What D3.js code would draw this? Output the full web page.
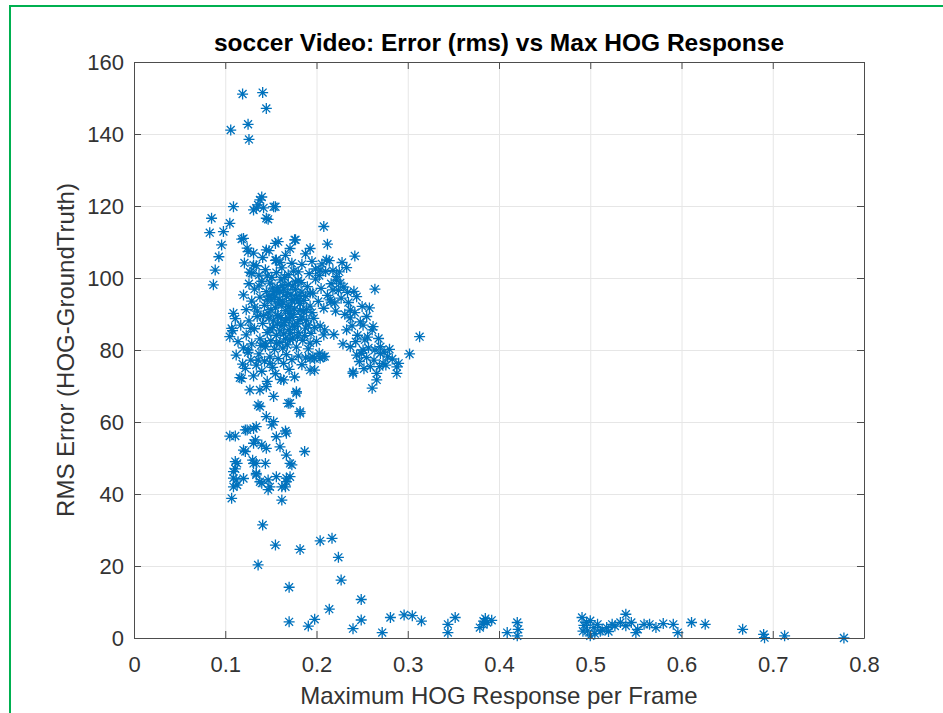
<!DOCTYPE html>
<html>
<head>
<meta charset="utf-8">
<script src="https://cdn.jsdelivr.net/npm/d3@7"></script>
<style>
  body { margin: 0; background: #fff; }
  svg { display: block; font-family: "Liberation Sans", Arial, sans-serif; }
  .axis path, .axis line { stroke: #4d4d4d; }
  .axis text { fill: #333; font-size: 22px; }
  .grid line { stroke: #e6e6e6; }
  .grid path { stroke: none; }
</style>
</head>
<body>
<div id="chart"></div>
<script>
// Plot box in pixels: x from 134 to 864, y from 62 to 638

var margin = { top: 62, right: 79, bottom: 75, left: 134 },
    width = 943 - margin.left - margin.right,
    height = 713 - margin.top - margin.bottom;

var xTicks = [0, 0.1, 0.2, 0.3, 0.4, 0.5, 0.6, 0.7, 0.8],
    xTickLabels = ["0", "0.1", "0.2", "0.3", "0.4", "0.5", "0.6", "0.7", "0.8"],
    yTicks = [0, 20, 40, 60, 80, 100, 120, 140, 160];

// [max HOG response, RMS error] pairs

var upperPoints = [
  [0.119, 151.1], [0.141, 151.5], [0.145, 147.1], [0.125, 142.7], [0.106, 141.1], [0.126, 138.5],
  [0.138, 121.7], [0.140, 122.5], [0.131, 118.9], [0.155, 119.8], [0.147, 116.3], [0.109, 119.8],
  [0.136, 120.3], [0.142, 119.5], [0.134, 119.4], [0.153, 119.8], [0.145, 116.6],
  [0.085, 116.6], [0.083, 112.6], [0.105, 115.2], [0.098, 112.9], [0.096, 109.2], [0.093, 105.9],
  [0.089, 102.2], [0.087, 98.1], [0.120, 111.0], [0.125, 107.3], [0.131, 103.6], [0.129, 101.3],
  [0.145, 107.8], [0.155, 109.6], [0.176, 110.6], [0.156, 105.0], [0.193, 108.2], [0.212, 109.4],
  [0.208, 114.3], [0.242, 106.1], [0.264, 96.9]
];

var mainCluster = [
  [0.118, 110.8], [0.121, 104.2], [0.124, 108.3], [0.127, 101.6], [0.131, 106.9], [0.134, 103.4],
  [0.137, 100.8], [0.141, 105.7], [0.144, 102.3], [0.148, 107.6], [0.151, 100.2], [0.155, 104.9],
  [0.158, 110.1], [0.162, 102.8], [0.166, 106.3], [0.169, 100.9], [0.173, 104.1], [0.177, 110.6],
  [0.180, 101.7], [0.184, 103.8], [0.188, 106.7], [0.192, 101.2], [0.195, 104.6], [0.199, 102.5],
  [0.203, 100.7], [0.206, 103.9], [0.210, 101.8], [0.214, 104.8], [0.218, 102.1], [0.222, 100.4],
  [0.156, 101.5], [0.171, 108.2],
  [0.120, 95.3], [0.123, 91.2], [0.126, 98.4], [0.129, 93.6], [0.132, 96.9], [0.135, 90.8],
  [0.138, 94.7], [0.140, 99.1], [0.143, 92.4], [0.145, 96.2], [0.147, 90.3], [0.149, 98.6],
  [0.151, 93.9], [0.153, 95.8], [0.155, 91.7], [0.157, 97.4], [0.159, 94.1], [0.161, 99.5],
  [0.162, 92.6], [0.164, 96.7], [0.166, 90.9], [0.167, 94.8], [0.169, 98.2], [0.171, 92.1],
  [0.172, 95.5], [0.174, 97.8], [0.176, 91.4], [0.178, 94.3], [0.180, 99.3], [0.182, 92.9],
  [0.184, 96.1], [0.186, 90.6], [0.188, 94.9], [0.190, 97.6], [0.193, 92.2], [0.196, 95.8],
  [0.199, 99.7], [0.202, 93.5], [0.205, 97.1], [0.208, 91.6], [0.212, 95.2], [0.216, 98.4],
  [0.220, 93.1], [0.224, 96.6], [0.158, 92.8], [0.163, 97.9], [0.170, 90.2], [0.177, 96.8],
  [0.183, 98.7], [0.152, 97.2],
  [0.108, 85.4], [0.111, 88.7], [0.114, 82.3], [0.117, 86.9], [0.120, 80.6], [0.123, 84.2],
  [0.126, 88.1], [0.129, 81.7], [0.132, 85.9], [0.135, 89.3], [0.138, 83.1], [0.141, 87.4],
  [0.144, 80.9], [0.146, 84.8], [0.148, 88.9], [0.150, 82.6], [0.152, 86.3], [0.154, 80.2],
  [0.156, 84.1], [0.158, 89.6], [0.160, 82.1], [0.162, 86.8], [0.164, 84.5], [0.166, 88.2],
  [0.168, 81.4], [0.170, 85.7], [0.172, 89.1], [0.174, 83.3], [0.176, 86.5], [0.178, 80.8],
  [0.180, 84.9], [0.182, 88.4], [0.185, 82.7], [0.188, 86.1], [0.191, 80.3], [0.194, 84.6],
  [0.197, 88.8], [0.200, 82.4], [0.204, 86.7], [0.208, 84.2], [0.163, 80.5], [0.157, 87.2],
  [0.171, 82.9], [0.149, 85.6], [0.139, 81.2], [0.107, 86.0], [0.105, 83.7], [0.109, 90.2],
  [0.112, 78.6], [0.116, 72.3], [0.119, 76.1], [0.122, 74.9], [0.125, 79.3], [0.128, 77.2],
  [0.131, 72.8], [0.134, 75.8], [0.137, 78.9], [0.140, 74.1], [0.143, 76.9], [0.146, 71.3],
  [0.149, 78.1], [0.152, 75.2], [0.155, 73.4], [0.158, 77.6], [0.161, 71.8], [0.164, 76.3],
  [0.167, 78.7], [0.170, 74.6], [0.173, 77.3], [0.176, 72.5], [0.180, 78.3], [0.184, 75.9],
  [0.188, 77.8], [0.193, 74.4], [0.198, 77.6], [0.203, 79.1], [0.209, 78.2], [0.204, 77.7],
  [0.196, 78.1], [0.125, 80.0], [0.136, 77.2], [0.149, 76.3], [0.156, 81.9], [0.171, 84.7],
  [0.144, 81.9],
  // dense core
  [0.150, 91.2], [0.154, 94.6], [0.157, 89.4], [0.160, 96.1], [0.163, 93.3], [0.165, 87.6],
  [0.168, 95.9], [0.170, 88.7], [0.173, 93.7], [0.175, 89.9], [0.177, 98.9], [0.179, 87.3],
  [0.181, 95.1], [0.184, 89.2], [0.186, 93.8], [0.189, 91.3], [0.191, 86.9], [0.153, 88.1],
  [0.160, 85.3], [0.166, 83.1], [0.174, 86.9], [0.179, 83.6], [0.187, 84.0], [0.146, 93.9],
  [0.142, 89.6], [0.137, 97.8], [0.165, 100.2], [0.175, 101.9], [0.160, 104.3], [0.146, 100.6],
  [0.132, 91.9], [0.128, 86.0], [0.195, 90.4], [0.198, 86.2], [0.161, 89.0], [0.169, 92.0],
  [0.176, 94.0], [0.182, 91.0], [0.156, 96.3], [0.148, 95.0]
];

var rightCluster = [
  [0.211, 105.0], [0.204, 102.2], [0.222, 99.4], [0.244, 94.8], [0.255, 89.3], [0.262, 86.5],
  [0.237, 91.1], [0.233, 85.6], [0.237, 80.9], [0.251, 80.0], [0.270, 80.9], [0.273, 76.3],
  [0.259, 75.4], [0.240, 73.5], [0.266, 73.5], [0.270, 79.0], [0.218, 96.7], [0.215, 93.9],
  [0.193, 95.8], [0.182, 93.0], [0.189, 88.3], [0.193, 81.9], [0.207, 78.1], [0.193, 77.6],
  [0.225, 101.7], [0.227, 94.4], [0.216, 93.3], [0.237, 88.9], [0.253, 82.8], [0.264, 80.0],
  [0.274, 79.4], [0.276, 75.8], [0.240, 73.9], [0.244, 78.6], [0.261, 69.4], [0.251, 86.9],
  [0.261, 85.6], [0.288, 75.3], [0.266, 71.7], [0.230, 97.5], [0.235, 93.2], [0.242, 90.4],
  [0.248, 87.8], [0.231, 89.9], [0.245, 84.1], [0.256, 83.6], [0.268, 83.2], [0.278, 78.1],
  [0.283, 77.5], [0.247, 76.8], [0.255, 77.9], [0.229, 81.7], [0.241, 96.3], [0.250, 92.1],
  [0.258, 91.7], [0.233, 102.9], [0.228, 104.3], [0.313, 83.7], [0.302, 78.9], [0.290, 76.3],
  [0.288, 73.5], [0.209, 85.6], [0.198, 74.4],
  [0.226, 98.6], [0.234, 96.0], [0.239, 86.7], [0.243, 82.3], [0.249, 79.1], [0.257, 80.6],
  [0.263, 77.2], [0.269, 75.4], [0.280, 80.2], [0.252, 74.8], [0.221, 90.8], [0.219, 84.3]
];

var lowerTail = [
  [0.118, 72.1], [0.127, 68.9], [0.138, 64.3], [0.138, 68.9], [0.164, 71.7], [0.171, 65.2],
  [0.178, 68.4], [0.182, 62.4], [0.167, 56.9], [0.166, 57.5], [0.153, 60.1], [0.145, 61.5],
  [0.134, 58.7], [0.124, 57.8], [0.105, 56.1], [0.111, 56.1], [0.131, 54.1], [0.140, 53.6],
  [0.120, 52.2], [0.160, 53.1], [0.187, 51.8], [0.167, 50.8], [0.131, 48.5], [0.144, 48.5],
  [0.173, 48.1], [0.113, 48.5], [0.111, 47.0], [0.109, 44.4], [0.113, 42.5], [0.107, 38.8],
  [0.134, 45.3], [0.138, 43.4], [0.149, 42.0], [0.156, 44.8], [0.167, 43.4], [0.166, 42.0],
  [0.171, 44.8], [0.162, 38.3], [0.147, 41.2], [0.136, 64.7], [0.169, 65.2], [0.122, 57.8],
  [0.131, 58.2], [0.133, 55.0], [0.151, 59.2], [0.156, 55.9], [0.122, 51.8], [0.145, 52.7],
  [0.111, 49.0], [0.134, 48.5], [0.130, 49.4], [0.171, 48.5], [0.109, 46.2], [0.134, 45.7],
  [0.147, 43.9], [0.167, 44.4], [0.112, 43.9], [0.109, 42.0], [0.162, 42.0], [0.140, 43.0],
  [0.120, 44.3], [0.153, 67.1], [0.145, 69.8], [0.178, 68.0], [0.182, 62.9]
];

var lowPoints = [
  [0.141, 31.4], [0.155, 25.8], [0.182, 24.6], [0.136, 20.3], [0.204, 27.0], [0.217, 27.7],
  [0.224, 22.4], [0.227, 16.1], [0.170, 14.1], [0.170, 4.5], [0.191, 3.3], [0.198, 5.2],
  [0.214, 8.0], [0.249, 10.7], [0.249, 5.0], [0.240, 2.6], [0.272, 1.5], [0.281, 5.7],
  [0.296, 6.4], [0.305, 6.2], [0.315, 4.7]
];

var flatTail = [
  [0.344, 3.8], [0.344, 1.5], [0.352, 5.7], [0.383, 4.7], [0.383, 3.7], [0.387, 4.3],
  [0.392, 4.9], [0.379, 2.9], [0.385, 5.4], [0.409, 1.5], [0.420, 4.3], [0.420, 0.6],
  [0.421, 2.4], [0.491, 5.7], [0.496, 4.3], [0.492, 1.9], [0.500, 0.6], [0.504, 2.9],
  [0.511, 1.9], [0.518, 2.9], [0.524, 3.8], [0.533, 4.3], [0.539, 6.6], [0.539, 3.4],
  [0.552, 2.4], [0.559, 3.8], [0.572, 2.9], [0.591, 3.8], [0.596, 1.5], [0.611, 4.3],
  [0.626, 3.8], [0.667, 2.4], [0.691, 0.1], [0.713, 0.6], [0.778, 0.0], [0.493, 3.5],
  [0.497, 2.0], [0.500, 4.8], [0.505, 1.2], [0.508, 3.8], [0.513, 2.2], [0.520, 1.8],
  [0.527, 3.3], [0.545, 4.3], [0.550, 1.5], [0.565, 3.8], [0.580, 4.0], [0.690, 1.0]
];

var points = [].concat(upperPoints, mainCluster, rightCluster, lowerTail, lowPoints, flatTail);

var svg = d3.select("#chart").append("svg")
    .attr("width", 943)
    .attr("height", 713);

svg.append("rect")
    .attr("width", 943)
    .attr("height", 713)
    .attr("fill", "#fff");

// green frame around the screenshot (right and bottom edges fall outside)
svg.append("rect")
    .attr("x", 10)
    .attr("y", 6)
    .attr("width", 960)
    .attr("height", 760)
    .attr("fill", "none")
    .attr("stroke", "#00b050")
    .attr("stroke-width", 2);

var g = svg.append("g")
    .attr("transform", "translate(" + margin.left + "," + margin.top + ")");

var x = d3.scaleLinear().domain([0, 0.8]).range([0, width]);
var y = d3.scaleLinear().domain([0, 160]).range([height, 0]);

// grid
g.append("g")
    .attr("class", "grid")
    .attr("transform", "translate(0," + height + ")")
    .call(d3.axisBottom(x).tickValues(xTicks).tickSize(-height).tickFormat(""));

g.append("g")
    .attr("class", "grid")
    .call(d3.axisLeft(y).tickValues(yTicks).tickSize(-width).tickFormat(""));

// markers: MATLAB-style '*'
var r = 5.5, d = r * 0.72;
var star = "M" + (-r) + ",0H" + r + "M0," + (-r) + "V" + r +
           "M" + (-d) + "," + (-d) + "L" + d + "," + d +
           "M" + (-d) + "," + d + "L" + d + "," + (-d);

g.append("g")
    .attr("class", "points")
  .selectAll("path")
    .data(points)
  .enter().append("path")
    .attr("transform", function(p) { return "translate(" + x(p[0]) + "," + y(p[1]) + ")"; })
    .attr("d", star)
    .attr("fill", "none")
    .attr("stroke", "#0072bd")
    .attr("stroke-width", 1.3);

// axes with inward ticks on all four sides
g.append("g")
    .attr("class", "axis")
    .attr("transform", "translate(0," + height + ")")
    .call(d3.axisBottom(x).tickValues(xTicks).tickSize(-7).tickSizeOuter(0).tickPadding(18)
      .tickFormat(function(v, i) { return xTickLabels[i]; }));

g.append("g")
    .attr("class", "axis")
    .call(d3.axisTop(x).tickValues(xTicks).tickSize(-7).tickSizeOuter(0).tickFormat(""));

g.append("g")
    .attr("class", "axis")
    .call(d3.axisLeft(y).tickValues(yTicks).tickSize(-7).tickSizeOuter(0).tickPadding(10));

g.append("g")
    .attr("class", "axis")
    .attr("transform", "translate(" + width + ",0)")
    .call(d3.axisRight(y).tickValues(yTicks).tickSize(-7).tickSizeOuter(0).tickFormat(""));

g.selectAll(".axis").attr("font-family", null).attr("font-size", null);

// labels
svg.append("text")
    .attr("x", margin.left + width / 2)
    .attr("y", 51)
    .attr("text-anchor", "middle")
    .attr("font-size", 24.5)
    .attr("font-weight", "bold")
    .attr("fill", "#000")
    .text("soccer Video: Error (rms) vs Max HOG Response");

svg.append("text")
    .attr("x", margin.left + width / 2)
    .attr("y", 704)
    .attr("text-anchor", "middle")
    .attr("font-size", 24)
    .attr("fill", "#333")
    .text("Maximum HOG Response per Frame");

svg.append("text")
    .attr("transform", "translate(74," + (margin.top + height / 2) + ") rotate(-90)")
    .attr("text-anchor", "middle")
    .attr("font-size", 24)
    .attr("fill", "#333")
    .text("RMS Error (HOG-GroundTruth)");
</script>
</body>
</html>
